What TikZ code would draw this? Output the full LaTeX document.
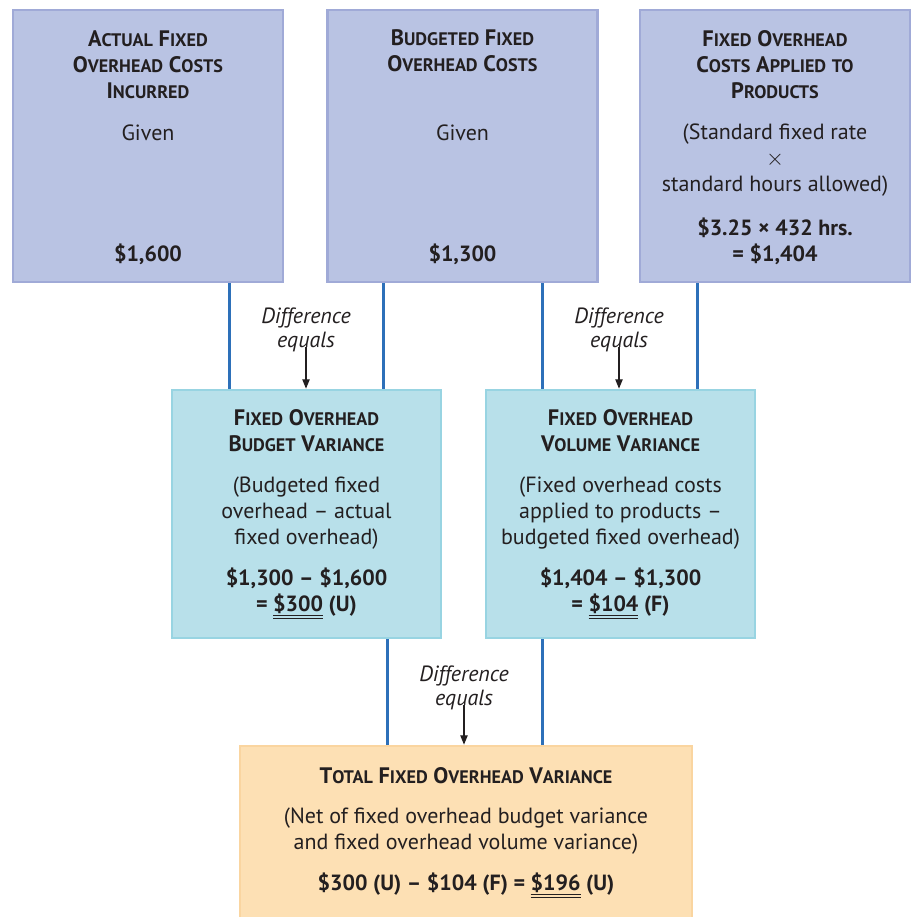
\documentclass[tikz,border=0pt]{standalone}
\usepackage{fontspec}
\setmainfont{PT Sans}
\usetikzlibrary{arrows.meta}

\definecolor{topfill}{RGB}{185,195,227}
\definecolor{topline}{RGB}{160,170,215}
\definecolor{midfill}{RGB}{184,224,234}
\definecolor{midline}{RGB}{152,212,226}
\definecolor{totfill}{RGB}{253,224,180}
\definecolor{totline}{RGB}{250,213,160}
\definecolor{linkblue}{RGB}{45,112,185}
\definecolor{ink}{RGB}{35,31,32}

% small caps faked: first letter full size, rest smaller
\newcommand\scw[2]{#1{\fontsize{13.6}{19.5}\selectfont#2}}
\newcommand\dul[1]{\underline{\underline{#1}}}

\tikzset{every picture/.style={line width=0.75pt},
  topbox/.style={draw=topline, fill=topfill, line width=2pt, inner sep=0pt, minimum width=202.5pt, minimum height=204pt},
  midbox/.style={draw=midline, fill=midfill, line width=2pt, inner sep=0pt, minimum width=201.75pt, minimum height=186pt},
  totbox/.style={draw=totline, fill=totfill, line width=2pt, inner sep=0pt, minimum width=339pt, minimum height=129pt},
  txt/.style={align=center, text=ink, inner sep=0pt, font=\fontsize{16.5}{19.5}\selectfont},
  ttl/.style={txt, font=\fontsize{16.8}{19.5}\selectfont\bfseries},
  val/.style={txt, font=\fontsize{16.5}{19.5}\selectfont\bfseries},
  note/.style={txt, font=\fontsize{16.5}{18}\selectfont\itshape},
  link/.style={draw=linkblue, line width=2.25pt},
  arr/.style={draw=ink, line width=0.9pt, -{Triangle[width=5.5pt,length=7pt]}}
}

\begin{document}
\begin{tikzpicture}[x=0.75pt,y=0.75pt,yscale=-1,xscale=1]
\useasboundingbox (0,0) rectangle (915,917);

% top row
\node[topbox] (b1) at (148,146) {};
\node[topbox] (b2) at (462.5,146) {};
\node[topbox] (b3) at (775,146) {};
% variances
\node[midbox] (b4) at (306.5,514) {};
\node[midbox] (b5) at (620.5,514) {};
% total
\node[totbox] (b6) at (466,832) {};

% connectors
\draw[link] (b1.south -| 229,0) -- (b4.north -| 229,0);
\draw[link] (b2.south -| 383,0) -- (b4.north -| 383,0);
\draw[link] (b2.south -| 542,0) -- (b5.north -| 542,0);
\draw[link] (b3.south -| 697,0) -- (b5.north -| 697,0);
\draw[link] (b4.south -| 387,0) -- (b6.north -| 387,0);
\draw[link] (b5.south -| 542,0) -- (b6.north -| 542,0);

% box 1
\node[ttl] (b1t) at (148,64.5) {\scw{A}{CTUAL} \scw{F}{IXED}\\\scw{O}{VERHEAD} \scw{C}{OSTS}\\\scw{I}{NCURRED}};
\node[txt] (b1g) at (148,133) {Given};
\node[val] (b1v) at (148,254) {\$1,600};
% box 2
\node[ttl] (b2t) at (462.5,51) {\scw{B}{UDGETED} \scw{F}{IXED}\\\scw{O}{VERHEAD} \scw{C}{OSTS}};
\node[txt] (b2g) at (462.5,133) {Given};
\node[val] (b2v) at (462.5,254) {\$1,300};
% box 3
\node[ttl] (b3t) at (775,64.5) {\scw{F}{IXED} \scw{O}{VERHEAD}\\\scw{C}{OSTS} \scw{A}{PPLIED} \scw{}{TO}\\\scw{P}{RODUCTS}};
\node[txt] (b3g) at (775,160.5) {(Standard fixed rate\\$\times$\\standard hours allowed)};
\node[val] (b3v) at (775,241) {\$3.25 × 432 hrs.\\= \$1,404};

% box 4
\node[ttl] (b4t) at (306.5,430.5) {\scw{F}{IXED} \scw{O}{VERHEAD}\\\scw{B}{UDGET} \scw{V}{ARIANCE}};
\node[txt] (b4g) at (306.5,513) {(Budgeted fixed\\overhead – actual\\fixed overhead)};
\node[val] (b4v) at (306.5,593) {\$1,300 – \$1,600\\= \dul{\$300} (U)};
% box 5
\node[ttl] (b5t) at (620.5,430.5) {\scw{F}{IXED} \scw{O}{VERHEAD}\\\scw{V}{OLUME} \scw{V}{ARIANCE}};
\node[txt] (b5g) at (620.5,513) {(Fixed overhead costs\\applied to products –\\budgeted fixed overhead)};
\node[val] (b5v) at (620.5,593) {\$1,404 – \$1,300\\= \dul{\$104} (F)};

% box 6
\node[ttl] (b6t) at (466,776) {\scw{T}{OTAL} \scw{F}{IXED} \scw{O}{VERHEAD} \scw{V}{ARIANCE}};
\node[txt] (b6g) at (466,831) {(Net of fixed overhead budget variance\\and fixed overhead volume variance)};
\node[val] (b6v) at (466,885) {\$300 (U) – \$104 (F) = \dul{\$196} (U)};

% difference labels
\node[note] (d1) at (306,330) {Difference\\equals};
\node[note] (d2) at (619,330) {Difference\\equals};
\node[note] (d3) at (464,688) {Difference\\equals};
\draw[arr] ([yshift=-4pt]d1.south) -- (b4.north -| d1.south);
\draw[arr] ([yshift=-4pt]d2.south) -- (b5.north -| d2.south);
\draw[arr] ([yshift=-4pt]d3.south) -- (b6.north -| d3.south);

\end{tikzpicture}
\end{document}
